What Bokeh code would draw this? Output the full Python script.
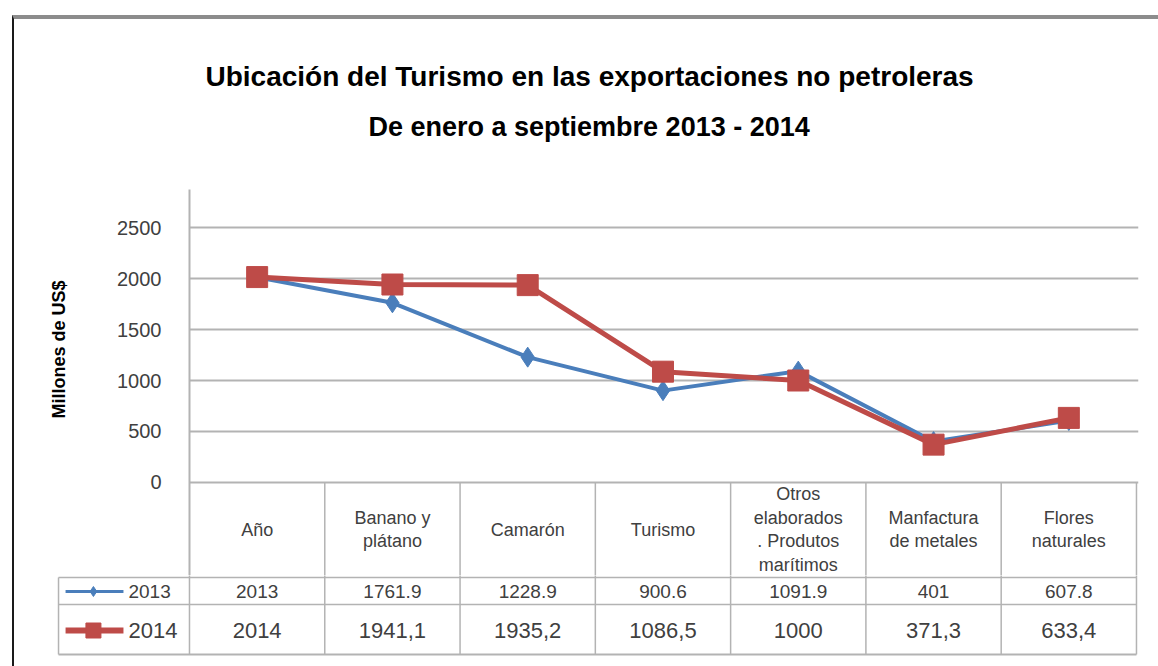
from bokeh.plotting import figure
from bokeh.models import Range1d, FixedTicker, Title, Div
from bokeh.embed import file_html
from bokeh.resources import INLINE
from bokeh.core.properties import value

# ---------------- data ----------------
categories = ["Año", "Banano y plátano", "Camarón", "Turismo",
              "Otros elaborados. Produtos marítimos", "Manfactura de metales",
              "Flores naturales"]
header_labels = ["Año", "Banano y\nplátano", "Camarón", "Turismo",
                 "Otros\nelaborados\n. Produtos\nmarítimos", "Manfactura\nde metales",
                 "Flores\nnaturales"]
series_names = ["2013", "2014"]
values_2013 = [2013, 1761.9, 1228.9, 900.6, 1091.9, 401, 607.8]
values_2014 = [2014, 1941.1, 1935.2, 1086.5, 1000, 371.3, 633.4]
labels_2013 = ["2013", "1761.9", "1228.9", "900.6", "1091.9", "401", "607.8"]
labels_2014 = ["2014", "1941,1", "1935,2", "1086,5", "1000", "371,3", "633,4"]
y_ticks = [0, 500, 1000, 1500, 2000, 2500]

title_text = "Ubicación del Turismo en las exportaciones no petroleras"
subtitle_text = "De enero a septiembre 2013 - 2014"
y_label = "Millones de US$"

BLUE = "#4A7EBB"
RED = "#BE4B48"
GRID = "#b3b3b3"
TXT = "#404040"
SANS = "Liberation Sans"

W = 1158
n = len(categories)
xs = list(range(n))  # category positions

# ---------------- chart (with the table's header row) ----------------
p = figure(width=W, height=575, x_range=Range1d(-0.5, n - 0.485),
           y_range=Range1d(-911.8, 2872.6), output_backend="svg",
           toolbar_location=None, min_border_left=189, min_border_right=20,
           min_border_bottom=0, min_border_top=189)
p.outline_line_color = None
p.extra_y_ranges = {"tbl": Range1d(93, -293)}

p.title.text = title_text
p.title.text_font = SANS
p.title.text_font_style = "bold"
p.title.text_font_size = "28px"
p.title.align = "left"
p.title.offset = 16
p.title.text_color = "black"
p.title.standoff = 32

spacer = Title(text=" ", text_font_size="40px", standoff=0)
p.add_layout(spacer, "above")
sub = Title(text=subtitle_text, text_font=SANS, text_font_style="bold",
            text_font_size="27px", align="left", offset=179, text_color="black",
            standoff=4)
p.add_layout(sub, "above")

p.xaxis.visible = False
p.xgrid.grid_line_color = None
p.ygrid.grid_line_color = GRID
p.ygrid.grid_line_width = 2
p.yaxis.ticker = FixedTicker(ticks=y_ticks)
p.yaxis.axis_line_color = GRID
p.yaxis.axis_line_width = 2
p.yaxis.major_tick_line_color = None
p.yaxis.minor_tick_line_color = None
p.yaxis.major_label_text_font = SANS
p.yaxis.major_label_text_font_size = "20px"
p.yaxis.major_label_text_color = TXT
p.yaxis.major_label_standoff = 22

ylab = Title(text=y_label, text_font=SANS, text_font_style="bold",
             text_font_size="18px", text_color="black", align="right",
             offset=91, vertical_align="top", standoff=88)
p.add_layout(ylab, "left")

# header row of the data table (column dividers + category names)
cx = [i + 0.5 for i in range(n)]
p.segment(x0=cx, y0=[0] * n, x1=cx, y1=[200] * n, line_color=GRID,
          line_width=1.5, y_range_name="tbl")
p.text(x=xs, y=[47] * n, text=header_labels, text_align="center",
       text_baseline="middle", text_font=value(SANS), text_font_size="18px",
       text_color=TXT, text_line_height=1.17, y_range_name="tbl")

p.line(xs, values_2013, color=BLUE, line_width=4)
p.scatter(xs, values_2013, marker="diamond", size=20, color=BLUE)
p.line(xs, values_2014, color=RED, line_width=5)
p.scatter(xs, values_2014, marker="square", size=21, color=RED)

# ---------------- data table rows ----------------
LEG_L = -1.468
t = figure(width=W, height=83, x_range=Range1d(-1.483, 6.515),
           y_range=Range1d(176, 93), output_backend="svg", toolbar_location=None,
           min_border_left=56, min_border_right=20, min_border_top=0,
           min_border_bottom=0)
t.axis.visible = False
t.grid.grid_line_color = None
t.outline_line_color = None

ROW1, ROW2, ROWB = 95, 122, 172
vx = [i - 0.5 for i in range(n + 1)]
t.segment(x0=vx, y0=[0] * len(vx), x1=vx, y1=[ROWB] * len(vx),
          line_color=GRID, line_width=1.5)
t.segment(x0=[LEG_L], y0=[ROW1], x1=[LEG_L], y1=[ROWB], line_color=GRID, line_width=1.5)
t.segment(x0=[LEG_L, LEG_L, LEG_L], y0=[ROW1, ROW2, ROWB],
          x1=[n - 0.5] * 3, y1=[ROW1, ROW2, ROWB],
          line_color=GRID, line_width=[1.5, 1.5, 2])

t.text(x=xs, y=[109] * n, text=labels_2013, text_align="center",
       text_baseline="middle", text_font=value(SANS), text_font_size="19px",
       text_color=TXT)
t.text(x=xs, y=[148] * n, text=labels_2014, text_align="center",
       text_baseline="middle", text_font=value(SANS), text_font_size="22px",
       text_color=TXT)

# legend swatches in the first column
t.segment(x0=[-1.416], y0=[109], x1=[-0.988], y1=[109], line_color=BLUE, line_width=3)
t.scatter([-1.21], [109], marker="diamond", size=10, color=BLUE)
t.segment(x0=[-1.416], y0=[148], x1=[-0.988], y1=[148], line_color=RED, line_width=6)
t.scatter([-1.21], [148], marker="square", size=15, color=RED)
t.text(x=[-0.951], y=[109], text=[series_names[0]], text_align="left",
       text_baseline="middle", text_font=value(SANS), text_font_size="19px",
       text_color=TXT)
t.text(x=[-0.951], y=[148], text=[series_names[1]], text_align="left",
       text_baseline="middle", text_font=value(SANS), text_font_size="22px",
       text_color=TXT)

# scanned page frame (top grey band, dark left edge)
frame = Div(text="", width=1151, height=656,
            styles={"position": "absolute", "left": "7px", "top": "10px",
                    "border-top": "4px solid #8c8c8c",
                    "border-left": "2px solid #1a1a1a",
                    "pointer-events": "none"})

open("out.html", "w").write(file_html([p, t, frame], INLINE))
